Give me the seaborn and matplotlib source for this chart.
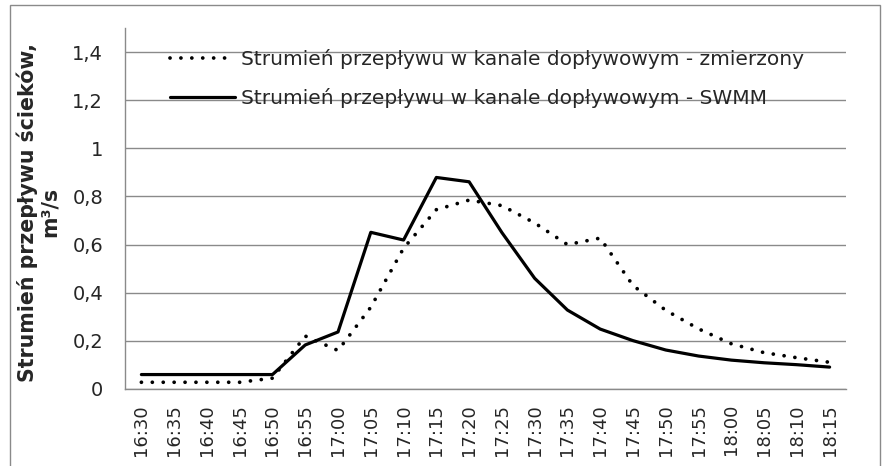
import numpy as np
import pandas as pd
import matplotlib
matplotlib.use('Agg')
import matplotlib.pyplot as plt
import seaborn as sns
from matplotlib.patches import Rectangle

times = ['16:30', '16:35', '16:40', '16:45', '16:50', '16:55', '17:00', '17:05',
         '17:10', '17:15', '17:20', '17:25', '17:30', '17:35', '17:40', '17:45',
         '17:50', '17:55', '18:00', '18:05', '18:10', '18:15']
measured = [0.028, 0.028, 0.028, 0.028, 0.045, 0.22, 0.16, 0.34, 0.585, 0.745, 0.785,
            0.762, 0.69, 0.60, 0.627, 0.43, 0.327, 0.25, 0.188, 0.151, 0.13, 0.111]
swmm = [0.06, 0.06, 0.06, 0.06, 0.06, 0.183, 0.237, 0.651, 0.619, 0.879, 0.861,
        0.65, 0.46, 0.328, 0.249, 0.201, 0.162, 0.137, 0.12, 0.109, 0.101, 0.091]
yticks = [0, 0.2, 0.4, 0.6, 0.8, 1.0, 1.2, 1.4]
ytick_labels = ['0', '0,2', '0,4', '0,6', '0,8', '1', '1,2', '1,4']
label_meas = 'Strumień przepływu w kanale dopływowym - zmierzony'
label_swmm = 'Strumień przepływu w kanale dopływowym - SWMM'

df = pd.DataFrame({'czas': times, 'zmierzony': measured, 'swmm': swmm})

sns.set_style('white')
plt.rcParams['font.family'] = ['DejaVu Sans']
grey = '#8a8a8a'
px = 72 / 100  # points per pixel

fig = plt.figure(figsize=(8.86, 4.66), dpi=100)
ax = fig.add_axes([125 / 886, 77 / 466, 721 / 886, 361 / 466])

sns.lineplot(data=df, x='czas', y='zmierzony', ax=ax, color='black', lw=2.7,
             linestyle=(0, (0.01, 2.9)), dash_capstyle='round', label=label_meas, sort=False)
sns.lineplot(data=df, x='czas', y='swmm', ax=ax, color='black', lw=2.3,
             label=label_swmm, sort=False)

ax.set_xlim(-0.5, len(times) - 0.5)
ax.set_ylim(0, 1.5)
ax.set_yticks(yticks)
ax.set_yticklabels(ytick_labels, fontsize=14)
ax.set_xticks(range(len(times)))
ax.set_xticklabels(times, rotation=90, fontsize=13)
ax.set_xticks(np.arange(-0.5, len(times)), minor=True)
ax.tick_params(axis='x', which='major', length=0, pad=15 * px)
ax.tick_params(axis='x', which='minor', length=7 * px, width=1, color=grey, direction='out')
ax.tick_params(axis='y', length=6 * px, width=1, color=grey, direction='out', pad=16 * px)
ax.yaxis.grid(True, color=grey, lw=1)
ax.xaxis.grid(False)
for s in ['top', 'right']:
    ax.spines[s].set_visible(False)
for s in ['left', 'bottom']:
    ax.spines[s].set_color(grey)
    ax.spines[s].set_linewidth(1)
ax.set_xlabel('')
ax.set_ylabel('Strumień przepływu ścieków,\nm³/s', fontsize=14.8, fontweight='bold',
              linespacing=1.1, va='center', ha='center')
ax.yaxis.set_label_coords(-(125 - 38) / 721, 0.49)

fs = 14.5
fpx = fs * 100 / 72
ax.legend(loc='upper left', bbox_to_anchor=(170 / 886, 1 - 49 / 466),
          bbox_transform=fig.transFigure, frameon=False, fontsize=fs,
          borderpad=0, borderaxespad=0, handlelength=65 / fpx,
          handletextpad=6 / fpx, labelspacing=(39 - fpx) / fpx)

fig.patches.append(Rectangle((10 / 886, -0.1), 870 / 886, 1.1 - 5 / 466, transform=fig.transFigure,
                             fill=False, edgecolor=grey, lw=1))

fig.savefig('out.png', dpi=100)
